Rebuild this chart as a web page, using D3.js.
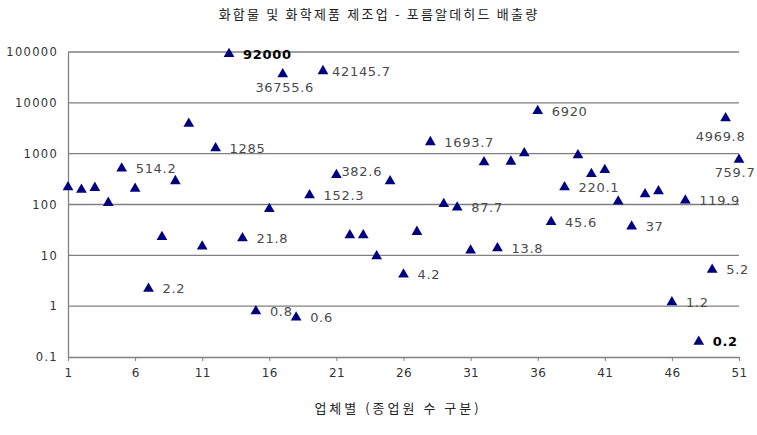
<!DOCTYPE html>
<html>
<head>
<meta charset="utf-8">
<script src="https://cdn.jsdelivr.net/npm/d3@7"></script>
<style>
  html, body { margin: 0; padding: 0; background: #fff; }
  svg { display: block; }
</style>
</head>
<body>
<svg id="chart" width="757" height="435"></svg>
<script>
// ---- data ----
const title = "화합물 및 화학제품 제조업 - 포름알데히드 배출량";
const xTitle = "업체별 (종업원 수 구분)";
const companies = d3.range(1, 52);
const emissions = [
  220, 195, 213, 108, 514.2, 204, 2.2, 23, 289, 3900,
  15, 1285, 92000, 21.8, 0.8, 82, 36755.6, 0.6, 152.3, 42145.7,
  382.6, 25, 25, 9.6, 287, 4.2, 29, 1693.7, 103, 87.7,
  12.5, 680, 13.8, 700, 1020, 6920, 45.6, 220.1, 930, 400,
  480, 115, 37, 160, 183, 1.2, 119.9, 0.2, 5.2, 4969.8,
  759.7
];
const labeledCompanies = [5, 7, 12, 13, 14, 15, 17, 18, 19, 20, 21, 26, 28, 30, 33, 36, 37, 38, 43, 46, 47, 48, 49, 50, 51];
const yTicks = [0.1, 1, 10, 100, 1000, 10000, 100000];
const xTicks = [1, 6, 11, 16, 21, 26, 31, 36, 41, 46, 51];

// ---- label placement (style) ----
const labelStyle = {
  13: {bold: true},
  48: {bold: true},
  17: {pos: "below", dy: 13, dx: 2},
  50: {pos: "below", dy: 18, dx: -5},
  51: {pos: "below", dy: 13, dx: -4},
  20: {dx: 9},
  21: {dx: 5, dy: -4}
};

const svg = d3.select("#chart");
const mLeft = 68, mRight = 739, mTop = 52, mBottom = 357;

const x = d3.scaleLinear().domain([1, 51]).range([mLeft, mRight]);
const y = d3.scaleLog().domain([0.1, 100000]).range([mBottom, mTop]);

// title
svg.append("text")
  .attr("x", 379).attr("y", 19)
  .attr("text-anchor", "middle")
  .attr("font-family", "'Noto Sans CJK KR', sans-serif")
  .attr("font-size", 13)
  .attr("letter-spacing", 2.2)
  .attr("fill", "#222")
  .text(title);

// gridlines
svg.append("g").selectAll("line")
  .data(yTicks.filter(d => d > 0.1))
  .join("line")
  .attr("x1", mLeft).attr("x2", mRight)
  .attr("y1", d => y(d)).attr("y2", d => y(d))
  .attr("stroke", "#808080").attr("stroke-width", 1.3);

// y axis
const yAxis = d3.axisLeft(y).tickValues(yTicks).tickSize(0).tickPadding(10)
  .tickFormat(d => String(d));
const gy = svg.append("g").attr("transform", `translate(${mLeft},0)`).call(yAxis);
gy.select(".domain").attr("stroke", "#808080").attr("stroke-width", 1.3);
gy.selectAll("text")
  .attr("font-family", "'DejaVu Sans', sans-serif")
  .attr("font-size", 11.5)
  .attr("letter-spacing", 1.3)
  .attr("fill", "#333");

// x axis
const xAxis = d3.axisBottom(x).tickValues(xTicks).tickSize(4).tickSizeOuter(0).tickPadding(7);
const gx = svg.append("g").attr("transform", `translate(0,${mBottom})`).call(xAxis);
gx.select(".domain").attr("stroke", "#808080").attr("stroke-width", 1.3);
gx.selectAll(".tick line").attr("stroke", "#808080");
gx.selectAll("text")
  .attr("font-family", "'DejaVu Sans', sans-serif")
  .attr("font-size", 12)
  .attr("letter-spacing", 0.3)
  .attr("fill", "#333");

// x title
svg.append("text")
  .attr("x", 398).attr("y", 413)
  .attr("text-anchor", "middle")
  .attr("font-family", "'Noto Sans CJK KR', sans-serif")
  .attr("font-size", 13)
  .attr("letter-spacing", 3)
  .attr("fill", "#222")
  .text(xTitle);

// points
const points = companies.map((c, i) => ({c, v: emissions[i]}));
svg.append("g").selectAll("path")
  .data(points)
  .join("path")
  .attr("transform", d => `translate(${x(d.c)},${y(d.v)})`)
  .attr("d", d3.symbol().type(d3.symbolTriangle).size(50))
  .attr("fill", "#000080");

// labels
svg.append("g").selectAll("text")
  .data(points.filter(d => labeledCompanies.includes(d.c)))
  .join("text")
  .each(function(d) {
    const s = labelStyle[d.c] || {};
    const t = d3.select(this);
    if (s.pos === "below") {
      t.attr("x", x(d.c) + (s.dx || 0))
       .attr("y", y(d.v) + (s.dy || 13))
       .attr("text-anchor", "middle");
    } else {
      t.attr("x", x(d.c) + (s.dx !== undefined ? s.dx : 14))
       .attr("y", y(d.v) + (s.dy || 0))
       .attr("text-anchor", "start");
    }
    t.attr("dy", "0.36em")
     .attr("font-family", "'DejaVu Sans', sans-serif")
     .attr("font-size", 13)
     .attr("letter-spacing", 0.7)
     .attr("font-weight", s.bold ? "bold" : "normal")
     .attr("fill", s.bold ? "#000" : "#4a4a4a")
     .text(String(d.v));
  });
</script>
</body>
</html>
